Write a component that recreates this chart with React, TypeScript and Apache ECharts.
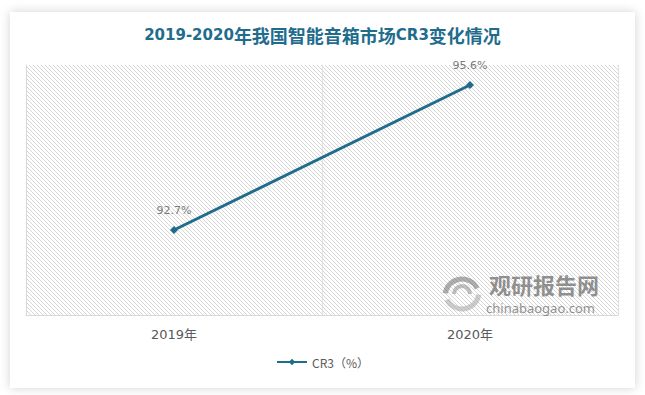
import React, { useEffect, useRef } from "react";
import * as echarts from "echarts";

const categories = ["2019年", "2020年"];
const cr3Values = [92.7, 95.6];
const seriesName = "CR3（%）";
const titleParts = ["2019-2020", "年我国智能音箱市场", "CR3", "变化情况"];

const CJK = '"Noto Sans CJK SC", sans-serif';
const LATIN = '"DejaVu Sans", "Noto Sans CJK SC", sans-serif';

function makeHatch(): string {
  const s = 4;
  const c = document.createElement("canvas");
  c.width = s;
  c.height = s;
  const ctx = c.getContext("2d")!;
  ctx.fillStyle = "#ffffff";
  ctx.fillRect(0, 0, s, s);
  ctx.fillStyle = "rgb(214,214,214)";
  for (let i = 0; i < s; i++) ctx.fillRect(i, i, 1, 1);
  return c.toDataURL();
}

export default function App() {
  const ref = useRef<HTMLDivElement>(null);
  useEffect(() => {
    if (!ref.current) return;
    const chart = echarts.init(ref.current, null, { renderer: "svg" });
    const hatch = makeHatch();
    const titleColor = "#1f6c8d";
    chart.setOption({
      animation: false,
      backgroundColor: "transparent",
      title: {
        text: `{a|${titleParts[0]}}{b|${titleParts[1]}}{a|${titleParts[2]}}{b|${titleParts[3]}}`,
        left: "center",
        top: 21,
        textStyle: {
          rich: {
            a: { fontFamily: LATIN, fontSize: 15, fontWeight: "bold", color: titleColor },
            b: { fontFamily: CJK, fontSize: 18, fontWeight: "bold", color: titleColor },
          },
        },
      },
      legend: {
        bottom: 22,
        left: "center",
        itemWidth: 30,
        itemHeight: 8,
        textStyle: { fontFamily: CJK, fontSize: 12, color: "#595959" },
        data: [seriesName],
      },
      grid: {
        left: 26,
        right: 27,
        top: 65,
        bottom: 80,
        show: true,
        borderWidth: 0,
        backgroundColor: {
          image: hatch,
          repeat: "repeat",
          imageWidth: 4,
          imageHeight: 4,
        } as any,
      },
      xAxis: {
        type: "category",
        data: categories,
        boundaryGap: true,
        axisLine: { lineStyle: { color: "#d9d9d9", width: 1 } },
        axisTick: { show: false },
        axisLabel: {
          fontFamily: LATIN,
          fontSize: 13,
          color: "#595959",
          margin: 13,
        },
        splitLine: {
          show: true,
          interval: 0,
          lineStyle: { color: "#e0e0e0", width: 1 },
        },
      },
      yAxis: {
        type: "value",
        min: 91,
        max: 96,
        axisLine: { show: true, lineStyle: { color: "#d9d9d9", width: 1 } },
        axisLabel: { show: false },
        axisTick: { show: false },
        splitLine: { show: false },
      },
      series: [
        {
          name: seriesName,
          type: "line",
          data: cr3Values,
          symbol: "diamond",
          symbolSize: 8,
          lineStyle: { color: titleColor, width: 3 },
          itemStyle: { color: titleColor },
          label: {
            show: true,
            position: "top",
            distance: 10,
            formatter: (p: any) => p.value.toFixed(1) + "%",
            fontFamily: LATIN,
            fontSize: 11,
            color: "#7a7a7a",
          },
        },
      ],
      graphic: [
        {
          type: "arc",
          shape: { cx: 462, cy: 296, r: 17, startAngle: Math.PI * 1.05, endAngle: Math.PI * 1.85 },
          style: { stroke: "rgba(120,120,120,0.6)", lineWidth: 5, fill: "none" },
          z: 10,
        },
        {
          type: "arc",
          shape: { cx: 462, cy: 292, r: 17, startAngle: Math.PI * 0.05, endAngle: Math.PI * 0.85 },
          style: { stroke: "rgba(170,170,170,0.6)", lineWidth: 5, fill: "none" },
          z: 10,
        },
        {
          type: "arc",
          shape: { cx: 462, cy: 294, r: 8, startAngle: Math.PI * 1.0, endAngle: Math.PI * 2.0 },
          style: { stroke: "rgba(140,140,140,0.55)", lineWidth: 4, fill: "none" },
          z: 10,
        },
        {
          type: "text",
          left: 489,
          top: 273,
          style: {
            text: "观研报告网",
            font: 'bold 22px "Noto Sans CJK SC", sans-serif',
            fill: "rgba(110,110,110,0.75)",
          },
          z: 10,
        },
        {
          type: "text",
          left: 486,
          top: 301,
          style: {
            text: "chinabaogao.com",
            font: '13px "Noto Sans", sans-serif',
            fill: "rgba(110,110,110,0.75)",
          },
          z: 10,
        },
      ],
    });
    return () => chart.dispose();
  }, []);

  return (
    <div style={{ position: "absolute", left: 0, top: 0, width: 645, height: 395, background: "#ffffff" }}>
      <div
        style={{
          position: "absolute",
          left: 10,
          top: 12,
          width: 625,
          height: 376,
          background: "#ffffff",
          boxShadow: "0 0 10px rgba(0,0,0,0.18)",
        }}
      />
      <div ref={ref} style={{ position: "absolute", left: 0, top: 0, width: 645, height: 395 }} />
    </div>
  );
}
